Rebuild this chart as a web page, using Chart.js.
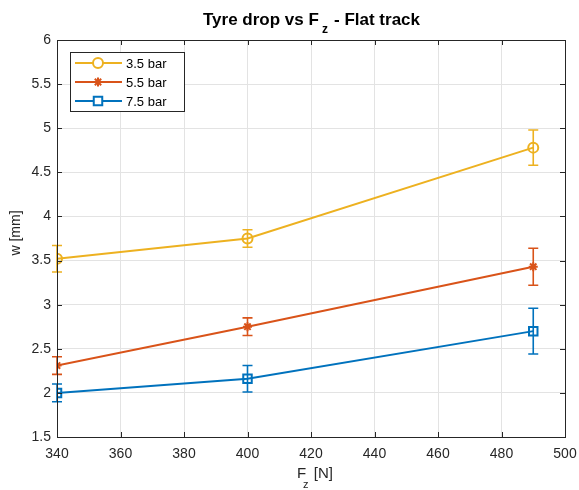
<!DOCTYPE html>
<html>
<head>
<meta charset="utf-8">
<script src="https://cdn.jsdelivr.net/npm/chart.js@4/dist/chart.umd.min.js"></script>
<style>
	body { margin: 0; background: #fff; }
</style>
</head>
<body>
<canvas id="tyreChart" width="579" height="490"></canvas>
<script>
// data
const forces = [340, 400, 490];
const drop35 = [3.52, 3.75, 4.78];
const err35 = [0.15, 0.10, 0.20];
const drop55 = [2.31, 2.75, 3.43];
const err55 = [0.10, 0.10, 0.21];
const drop75 = [2.00, 2.16, 2.70];
const err75 = [0.10, 0.15, 0.26];
const seriesLabels = ['3.5 bar', '5.5 bar', '7.5 bar'];
const xTicks = [340, 360, 380, 400, 420, 440, 460, 480, 500];
const yTicks = [1.5, 2, 2.5, 3, 3.5, 4, 4.5, 5, 5.5, 6];

const FONT = '"Liberation Sans", Arial, Helvetica, sans-serif';
const AXIS = '#262626';
const GRID = '#e3e3e3';

function toPoints(ys) {
	return forces.map((x, i) => ({ x: x, y: ys[i] }));
}

const series = [
	{ label: seriesLabels[0], data: drop35, err: err35, color: '#EDB120', style: 'circle', radius: 5 },
	{ label: seriesLabels[1], data: drop55, err: err55, color: '#D95319', style: 'star', radius: 4.5 },
	{ label: seriesLabels[2], data: drop75, err: err75, color: '#0072BD', style: 'rect', radius: 6 }
];

// error bars, drawn under the markers
const errorBars = {
	id: 'errorBars',
	beforeDatasetsDraw(chart) {
		const ctx = chart.ctx;
		const xs = chart.scales.x;
		const ys = chart.scales.y;
		ctx.save();
		series.forEach(s => {
			ctx.strokeStyle = s.color;
			ctx.lineWidth = 1.6;
			forces.forEach((f, i) => {
				const px = xs.getPixelForValue(f);
				const top = ys.getPixelForValue(s.data[i] + s.err[i]);
				const bot = ys.getPixelForValue(s.data[i] - s.err[i]);
				ctx.beginPath();
				ctx.moveTo(px, top); ctx.lineTo(px, bot);
				ctx.moveTo(px - 5, top); ctx.lineTo(px + 5, top);
				ctx.moveTo(px - 5, bot); ctx.lineTo(px + 5, bot);
				ctx.stroke();
			});
		});
		ctx.restore();
	}
};

// box, inward ticks, titles and legend in MATLAB style
const matlabFrame = {
	id: 'matlabFrame',
	afterDraw(chart) {
		const ctx = chart.ctx;
		const a = chart.chartArea;
		const xs = chart.scales.x;
		const ys = chart.scales.y;
		ctx.save();
		ctx.strokeStyle = AXIS;
		ctx.lineWidth = 1;
		ctx.strokeRect(Math.round(a.left) + 0.5, Math.round(a.top) + 0.5, Math.round(a.right - a.left), Math.round(a.bottom - a.top));
		ctx.beginPath();
		xTicks.forEach(t => {
			const px = Math.round(xs.getPixelForValue(t)) + 0.5;
			ctx.moveTo(px, a.bottom); ctx.lineTo(px, a.bottom - 5);
			ctx.moveTo(px, a.top); ctx.lineTo(px, a.top + 5);
		});
		yTicks.forEach(t => {
			const py = Math.round(ys.getPixelForValue(t)) + 0.5;
			ctx.moveTo(a.left, py); ctx.lineTo(a.left + 5, py);
			ctx.moveTo(a.right, py); ctx.lineTo(a.right - 5, py);
		});
		ctx.stroke();

		// title with subscript
		ctx.fillStyle = '#000';
		ctx.textBaseline = 'alphabetic';
		ctx.font = 'bold 17px ' + FONT;
		ctx.textAlign = 'left';
		ctx.fillText('Tyre drop vs F', 203, 25);
		ctx.font = 'bold 12px ' + FONT;
		ctx.fillText('z', 322, 33);
		ctx.font = 'bold 17px ' + FONT;
		ctx.textAlign = 'right';
		ctx.fillText(' - Flat track', 420, 25);

		// x label with subscript
		ctx.fillStyle = AXIS;
		ctx.textAlign = 'left';
		ctx.font = '15px ' + FONT;
		ctx.fillText('F', 297, 478);
		ctx.font = '11px ' + FONT;
		ctx.fillText('z', 303, 488);
		ctx.font = '15px ' + FONT;
		ctx.textAlign = 'right';
		ctx.fillText('[N]', 333, 478);

		// y label
		ctx.save();
		ctx.translate(20, 233);
		ctx.rotate(-Math.PI / 2);
		ctx.textAlign = 'center';
		ctx.font = '14px ' + FONT;
		ctx.fillText('w [mm]', 0, 0);
		ctx.restore();

		// legend
		const lx = 70, ly = 52, lw = 114, lh = 59;
		ctx.fillStyle = '#fff';
		ctx.fillRect(lx, ly, lw, lh);
		ctx.strokeStyle = AXIS;
		ctx.lineWidth = 1;
		ctx.strokeRect(lx + 0.5, ly + 0.5, lw, lh);
		ctx.font = '13px ' + FONT;
		ctx.textBaseline = 'middle';
		ctx.textAlign = 'left';
		series.forEach((s, i) => {
			const yy = ly + 11 + i * 19;
			ctx.strokeStyle = s.color;
			ctx.lineWidth = 2;
			ctx.beginPath();
			ctx.moveTo(lx + 5, yy); ctx.lineTo(lx + 52, yy);
			ctx.stroke();
			ctx.fillStyle = s.style === 'star' ? s.color : '#fff';
			Chart.helpers.drawPoint(ctx, {
				pointStyle: s.style, radius: s.radius, rotation: 0, borderWidth: 2
			}, lx + 28, yy);
			ctx.fillStyle = '#000';
			ctx.fillText(s.label, lx + 56, yy + 1);
		});
		ctx.restore();
	}
};

new Chart(document.getElementById('tyreChart').getContext('2d'), {
	type: 'line',
	data: {
		datasets: series.map(s => ({
			label: s.label,
			data: toPoints(s.data),
			borderColor: s.color,
			borderWidth: 2,
			pointStyle: s.style,
			pointRadius: s.radius,
			pointBorderWidth: 2,
			pointBackgroundColor: s.style === 'star' ? s.color : 'rgba(0,0,0,0)',
			pointBorderColor: s.color,
			tension: 0
		}))
	},
	options: {
		responsive: false,
		animation: false,
		layout: { padding: { top: 40, right: 14, left: 0, bottom: 0 } },
		plugins: {
			legend: { display: false },
			tooltip: { enabled: false },
			title: { display: false }
		},
		scales: {
			x: {
				type: 'linear',
				min: 340,
				max: 500,
				afterBuildTicks: scale => { scale.ticks = xTicks.map(v => ({ value: v })); },
				afterFit: scale => {
					scale.height = 53;
					scale.paddingLeft = 0;
					scale.paddingRight = 0;
				},
				grid: { color: GRID, tickLength: 0, drawTicks: false },
				border: { display: false },
				ticks: { color: AXIS, padding: 9, font: { family: FONT, size: 14 }, maxRotation: 0 }
			},
			y: {
				min: 1.5,
				max: 6,
				afterBuildTicks: scale => { scale.ticks = yTicks.map(v => ({ value: v })); },
				afterFit: scale => {
					scale.width = 57;
					scale.paddingTop = 0;
					scale.paddingBottom = 0;
				},
				grid: { color: GRID, tickLength: 0, drawTicks: false },
				border: { display: false },
				ticks: {
					color: AXIS,
					padding: 6,
					font: { family: FONT, size: 14 },
					callback: v => String(v)
				}
			}
		}
	},
	plugins: [errorBars, matlabFrame]
});
</script>
</body>
</html>
